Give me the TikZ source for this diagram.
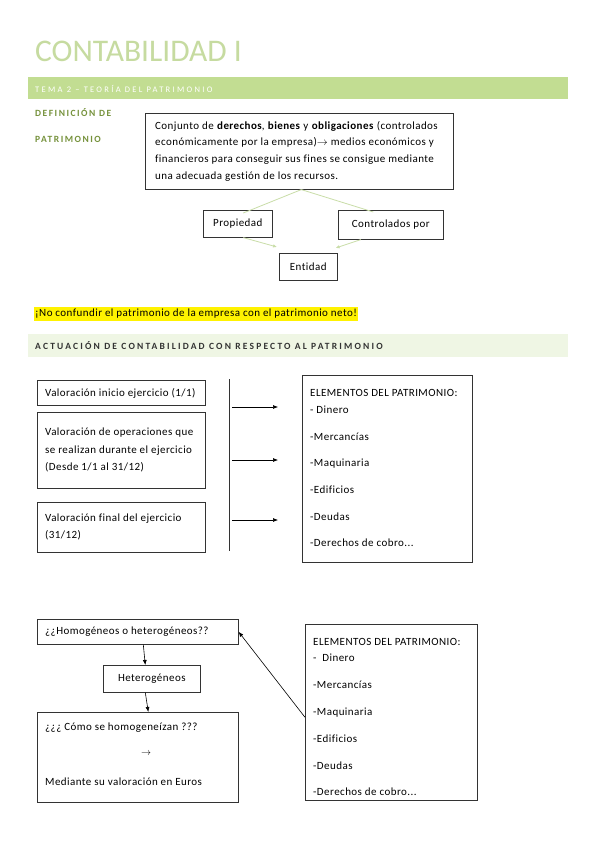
\documentclass[tikz,border=0pt]{standalone}
\usepackage{fontspec}
\setmainfont{Carlito}[LetterSpace=4,Ligatures=NoCommon]
\usetikzlibrary{arrows.meta,calc}
\definecolor{lgreen}{HTML}{C2DD92}
\definecolor{tgreen}{HTML}{C6DBA0}
\definecolor{dgreen}{HTML}{76923C}
\definecolor{pale}{HTML}{EFF6E4}
\definecolor{hgray}{HTML}{333333}
\definecolor{lineg}{HTML}{C9DDA8}
\begin{document}
\begin{tikzpicture}[x=1pt,y=-1pt,
  frame/.style={draw=black!80, line width=0.6pt, inner sep=0pt, anchor=north west},
  txt/.style={inner sep=0pt, align=left, font=\fontsize{11}{17.5}\selectfont},
  ctxt/.style={font=\fontsize{11}{13}\selectfont},
  arr/.style={-{Latex[length=5pt,width=4pt]}, line width=0.6pt},
  garr/.style={draw=lineg, line width=0.8pt, -{Latex[length=4pt,width=3.5pt]}},
  gline/.style={draw=lineg, line width=0.8pt}]
\useasboundingbox[fill=white] (0,0) rectangle (599,848);

% title and headings
\node[anchor=base west, inner sep=0pt, text=tgreen, font=\fontsize{31.5}{32}\selectfont\addfontfeatures{LetterSpace=0}] (title) at (35,62) {CONTABILIDAD I};
\node[fill=lgreen, minimum width=540, minimum height=22, inner sep=0pt, anchor=north west] (band1) at (28,77) {};
\node[anchor=west, inner sep=0pt, text=white, font=\fontsize{8.5}{10}\selectfont\addfontfeatures{LetterSpace=27}] (tema) at (35,88.5) {TEMA 2 – TEORÍA DEL PATRIMONIO};
\node[anchor=west, inner sep=0pt, text=dgreen, font=\fontsize{9.5}{11}\selectfont\bfseries\addfontfeatures{LetterSpace=16}] (def1) at (35,113) {DEFINICIÓN DE};
\node[anchor=west, inner sep=0pt, text=dgreen, font=\fontsize{9.5}{11}\selectfont\bfseries\addfontfeatures{LetterSpace=16}] (def2) at (35,139) {PATRIMONIO};

% definition box
\node[frame, minimum width=308, minimum height=76] (big) at (145,113) {};
\node[txt, anchor=west, font=\fontsize{11}{16.7}\selectfont] (bigt) at (155,151) {Conjunto de \textbf{derechos}, \textbf{bienes} y \textbf{obligaciones} (controlados\\económicamente por la empresa)$\rightarrow$ medios económicos y\\financieros para conseguir sus fines se consigue mediante\\una adecuada gestión de los recursos.};

\node[frame, ctxt, minimum width=69, minimum height=27] (prop) at (203,210) {Propiedad};
\node[frame, ctxt, minimum width=105, minimum height=29] (ctrl) at (338,210) {Controlados por};
\node[frame, ctxt, minimum width=58, minimum height=27] (ent) at (279,253) {Entidad};

\draw[gline] ([xshift=2pt]big.south) -- ([xshift=5.5pt,yshift=-3pt]prop.north);
\draw[gline] ([xshift=2pt]big.south) -- ([xshift=-17.5pt,yshift=-2pt]ctrl.north);
\draw[garr] ([xshift=5.5pt]prop.south) -- ([xshift=-2pt,yshift=6pt]ent.north west);
\draw[garr] ([xshift=-30pt]ctrl.south) -- ([xshift=-2pt,yshift=5pt]ent.north east);

% highlighted note
\node[anchor=west, fill=yellow, inner xsep=1pt, inner ysep=2pt, font=\fontsize{11}{12}\selectfont] (nota) at (34,314) {¡No confundir el patrimonio de la empresa con el patrimonio neto!};

\node[fill=pale, minimum width=540, minimum height=23, inner sep=0pt, anchor=north west] (band2) at (28,334) {};
\node[anchor=west, inner sep=0pt, text=hgray, font=\fontsize{9.5}{11}\selectfont\bfseries\addfontfeatures{LetterSpace=23}] (act) at (35,345.5) {ACTUACIÓN DE CONTABILIDAD CON RESPECTO AL PATRIMONIO};

% left boxes
\node[frame, minimum width=168, minimum height=25] (v1) at (37,380) {};
\node[txt, anchor=west] (v1t) at (45,393) {Valoración inicio ejercicio (1/1)};
\node[frame, minimum width=168, minimum height=76] (v2) at (37,412) {};
\node[txt, anchor=west] (v2t) at (45,450) {Valoración de operaciones que\\se realizan durante el ejercicio\\(Desde 1/1 al 31/12)};
\node[frame, minimum width=168, minimum height=50] (v3) at (37,502) {};
\node[txt, anchor=west] (v3t) at (45,527) {Valoración final del ejercicio\\(31/12)};

\coordinate (vt) at (229,379);
\coordinate (vb) at (229,551);
\draw[line width=0.6pt, draw=black!80] (vt) -- (vb);
\coordinate (a1s) at (232,407); \coordinate (a1e) at (278,407);
\coordinate (a2s) at (232,460); \coordinate (a2e) at (278,460);
\coordinate (a3s) at (232,520); \coordinate (a3e) at (278,520);
\draw[arr] (a1s) -- (a1e);
\draw[arr] (a2s) -- (a2e);
\draw[arr] (a3s) -- (a3e);

% elements box 1
\node[frame, minimum width=170, minimum height=187] (e1) at (302,375) {};
\node[txt, anchor=north west, font=\fontsize{11}{17}\selectfont] (e1t) at (310,389) {ELEMENTOS DEL PATRIMONIO:\\- Dinero\\[9.7pt]-Mercancías\\[9.7pt]-Maquinaria\\[9.7pt]-Edificios\\[9.7pt]-Deudas\\[9.7pt]-Derechos de cobro...};

% bottom part
\node[frame, minimum width=201, minimum height=25] (hom) at (37,619) {};
\node[txt, anchor=west] (homt) at (45,631.5) {¿¿Homogéneos o heterogéneos??};
\node[frame, ctxt, minimum width=97, minimum height=27] (het) at (103,665) {Heterogéneos};
\node[frame, minimum width=201, minimum height=90] (como) at (37,712) {};
\node[txt, anchor=west] (como1) at (45,728) {¿¿¿ Cómo se homogeneízan ???};
\node[inner sep=0pt] (como2) at (146,754) {$\rightarrow$};
\node[txt, anchor=west] (como3) at (45,782) {Mediante su valoración en Euros};

\draw[arr] ([xshift=5.5pt]hom.south) -- ([xshift=-6.5pt]het.north);
\draw[arr] ([xshift=-6.5pt]het.south) -- ([xshift=10.5pt]como.north);

\node[frame, minimum width=172, minimum height=176] (e2) at (305,624) {};
\node[txt, anchor=north west, font=\fontsize{11}{16.5}\selectfont] (e2t) at (313,638) {ELEMENTOS DEL PATRIMONIO:\\-\ \ Dinero\\[10.3pt]-Mercancías\\[10.3pt]-Maquinaria\\[10.3pt]-Edificios\\[10.3pt]-Deudas\\[10.3pt]-Derechos de cobro...};

\draw[arr] ([yshift=-5pt]e2.west) -- (hom.east);
\end{tikzpicture}
\end{document}
